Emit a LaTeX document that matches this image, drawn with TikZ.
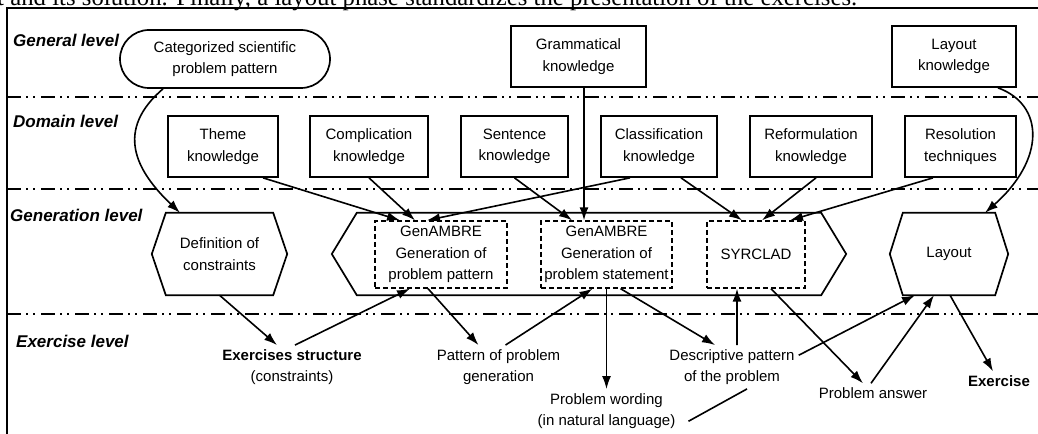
\documentclass[tikz,border=0pt]{standalone}
\usepackage{fontspec}
\setmainfont{Liberation Serif}
\setsansfont{Liberation Sans}
\usetikzlibrary{arrows.meta,shapes.misc}

\newcommand{\lblfont}{\sffamily\fontsize{15bp}{21.5bp}\selectfont}
% hexagon round a node: #1 node name, #2 indent of the points
\newcommand{\hexframe}[2]{%
  \draw[line width=1.7bp] ([xshift=#2]#1.north west) -- ([xshift=-#2]#1.north east) -- (#1.east)
    -- ([xshift=-#2]#1.south east) -- ([xshift=#2]#1.south west) -- (#1.west) -- cycle;}

\tikzset{
  know/.style={draw, line width=1.7bp, minimum height=61bp, align=center, inner sep=2bp, font=\lblfont},
  dbox/.style={draw, dash pattern=on 5bp off 3bp, line width=1.3bp, minimum height=67bp, align=center, inner sep=1bp, font=\lblfont},
  hexa/.style={minimum height=82bp, align=center, inner sep=0pt, font=\lblfont},
  outtxt/.style={align=center, inner sep=4bp, font=\lblfont},
  lvl/.style={anchor=west, inner sep=0pt, font=\sffamily\bfseries\itshape\fontsize{17bp}{20bp}\selectfont},
  levelsep/.style={line width=1.8bp, dash pattern=on 14bp off 5bp on 2bp off 5bp on 2bp off 6bp},
  flow/.style={->, line width=1.6bp},
}

\begin{document}
\begin{tikzpicture}[x=1bp, y=-1bp, >={Latex[length=13bp,width=9bp]}]
    \useasboundingbox (0,0) rectangle (1038,434);

    % text line of the page, cut by the crop
    \node[anchor=base west, inner sep=0pt, font=\fontsize{24.7bp}{29bp}\selectfont] (intro) at (-3,5.5)
        {\makebox[860bp][s]{t and its solution. Finally, a layout phase standardizes the presentation of the exercises.}};

    % frame and levels
    \draw[line width=1.6bp] (7,434) -- (7,8) -- (1038,8);
    \draw[levelsep] (7,97) -- (1038,97);
    \draw[levelsep] (7,189) -- (1038,189);
    \draw[levelsep] (7,314) -- (1038,314);

    \node[lvl] (lgen) at (13,40) {General level};
    \node[lvl] (ldom) at (13,121) {Domain level};
    \node[lvl] (lgn) at (10,215) {Generation level};
    \node[lvl] (lex) at (16,341) {Exercise level};

    % General level
    \node[know, rounded rectangle, minimum width=214bp, minimum height=58bp] (cat) at (225,59) {Categorized scientific\\problem pattern};
    \node[know, minimum width=135bp] (gram) at (578.5,56.5) {Grammatical\\knowledge};
    \node[know, minimum width=124bp] (layk) at (954,56.5) {Layout\\knowledge};

    % Domain level
    \node[know, minimum width=110bp] (theme) at (223,146.5) {Theme\\knowledge};
    \node[know, minimum width=118bp] (compl) at (369,146.5) {Complication\\knowledge};
    \node[know, minimum width=107bp] (sent) at (514.5,146.5) {Sentence\\knowledge};
    \node[know, minimum width=116bp] (classif) at (659,146.5) {Classification\\knowledge};
    \node[know, minimum width=122bp] (reform) at (811,146.5) {Reformulation\\knowledge};
    \node[know, minimum width=111bp] (resol) at (960.5,146.5) {Resolution\\techniques};

    % Generation level
    \node[hexa, minimum width=135bp] (defc) at (219.5,254) {Definition of\\constraints};
    \node[hexa, minimum width=514bp] (gen) at (589,254) {};
    \node[hexa, minimum width=118bp] (lay) at (949,254) {Layout};
    \hexframe{defc}{14bp}
    \hexframe{gen}{25bp}
    \hexframe{lay}{13bp}

    \node[dbox, minimum width=132bp] (gpat) at (441,254.5) {GenAMBRE\\Generation of\\problem pattern};
    \node[dbox, minimum width=131bp] (gstat) at (606.5,254.5) {GenAMBRE\\Generation of\\problem statement};
    \node[dbox, minimum width=98bp] (syr) at (756,254.5) {SYRCLAD};

    % Exercise level
    \node[outtxt] (exs) at (292,367) {\textbf{Exercises structure}\\(constraints)};
    \node[outtxt] (ppg) at (498.5,367) {Pattern of problem\\generation};
    \node[outtxt] (pw) at (606.5,411) {Problem wording\\(in natural language)};
    \node[outtxt] (dp) at (732,367) {Descriptive pattern\\of the problem};
    \node[outtxt] (pa) at (873,393) {Problem answer};
    \node[outtxt] (ex) at (999,381) {\textbf{Exercise}};

    % connectors
    \draw[flow] ([xshift=-62bp]cat.south) .. controls (115,130) and (135,170) .. ([xshift=-39.5bp]defc.north);
    \draw[flow] ([xshift=44bp]layk.south) .. controls (1045,105) and (1045,160) .. ([xshift=36bp]lay.north);

    \draw[flow] ([xshift=40bp]theme.south) -- ([xshift=-41bp]gpat.north);
    \draw[flow] (compl.south) -- ([xshift=-26bp]gpat.north);
    \draw[flow] ([xshift=-29bp]classif.south) -- ([xshift=-14bp]gpat.north);
    \draw[flow] (sent.south) -- ([xshift=-34.5bp]gstat.north);
    \draw[flow] ([xshift=5.5bp]gram.south) -- ([xshift=-22.5bp]gstat.north);
    \draw[flow] ([xshift=22bp]classif.south) -- ([xshift=-14bp]syr.north);
    \draw[flow] ([xshift=5bp]reform.south) -- ([xshift=6bp]syr.north);
    \draw[flow] ([xshift=-27.5bp]resol.south) -- ([xshift=34bp]syr.north);

    \draw[flow] (defc.south) -- ([xshift=-15bp]exs.north);
    \draw[flow] ([xshift=3bp]exs.north) -- ([xshift=-31bp]gpat.south);
    \draw[flow] ([xshift=-13bp]gpat.south) -- ([xshift=-20bp]ppg.north);
    \draw[flow] ([xshift=7bp]ppg.north) -- ([xshift=-14bp]gstat.south);
    \draw[flow] (gstat.south) -- (pw.north);
    \draw[flow] ([xshift=14bp]gstat.south) -- ([xshift=-17bp]dp.north);
    \draw[flow] ([xshift=5bp]dp.north) -- ([xshift=-19bp]syr.south);
    \draw[flow] (dp.10) -- ([xshift=-34bp]lay.south);
    \draw[flow] ([xshift=15bp]syr.south) -- ([xshift=-10bp]pa.north);
    \draw[flow] ([xshift=-2bp]pa.north) -- ([xshift=-15bp]lay.south);
    \draw[flow] ([xshift=1bp]lay.south) -- ([xshift=-6bp]ex.north);
    \draw[line width=1.6bp] ([xshift=9bp]pw.-8) -- ([xshift=15bp]dp.south);
\end{tikzpicture}
\end{document}
